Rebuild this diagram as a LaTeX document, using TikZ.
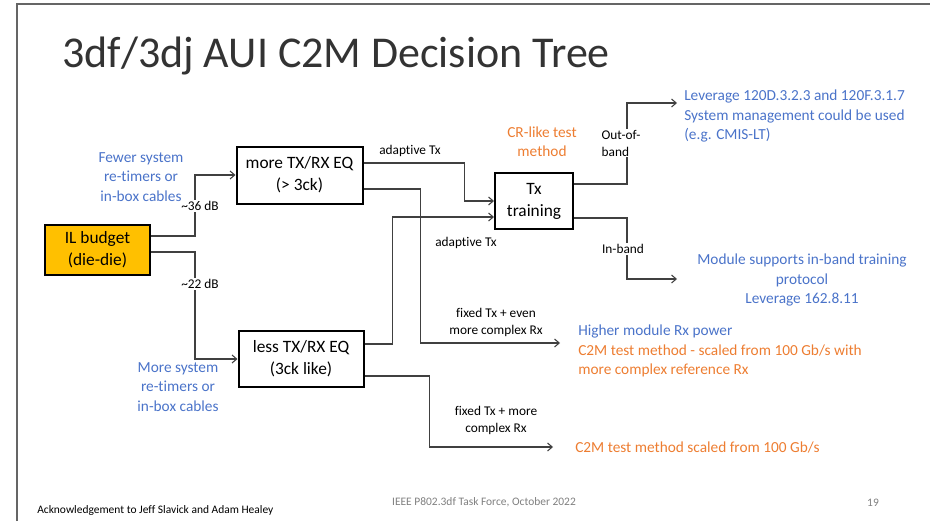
\documentclass[tikz,border=0pt]{standalone}
\usepackage{fontspec}
\setmainfont{Carlito}[Ligatures=NoCommon]
\usetikzlibrary{arrows.meta,calc}
\definecolor{ablue}{HTML}{4A73C9}
\definecolor{aorange}{HTML}{ED7D31}
\definecolor{agold}{HTML}{FFC000}
\definecolor{aline}{HTML}{404040}
\definecolor{agrey}{HTML}{7F7F7F}
\begin{document}
\begin{tikzpicture}[x=0.75pt,y=-0.75pt,
  box/.style={draw=black,line width=1.5pt,align=center,inner sep=0pt,font=\fontsize{13}{16.5}\selectfont},
  conn/.style={draw=aline,line width=0.8pt},
  arr/.style={conn,-{Straight Barb[length=3.5pt,width=6pt]}},
  small/.style={font=\fontsize{10}{12.75}\selectfont,align=center,inner sep=1pt},
  bluetxt/.style={text=ablue,font=\fontsize{11.5}{14.5}\selectfont,inner sep=0pt},
  orangetxt/.style={text=aorange,font=\fontsize{11.5}{14.5}\selectfont,inner sep=0pt},
  gap/.style={fill=white}]
\useasboundingbox (0,0) rectangle (930,521);
% frame
\draw[agrey!80!black,line width=1.5pt] (17,521) -- (17,4) -- (930,4);
% title
\node[anchor=base west,inner sep=0pt,font=\fontsize{33}{40}\selectfont,text=black!80] (title) at (62,67) {3df/3dj AUI C2M Decision Tree};
% boxes
\node[box,fill=agold,minimum width=78.75pt,minimum height=37.5pt] (il) at (97.5,250) {IL budget\\(die-die)};
\node[box,minimum width=94.5pt,minimum height=42.75pt] (more) at (299.5,175) {more TX/RX EQ\\(> 3ck)};
\node[box,minimum width=93.75pt,minimum height=42pt] (less) at (301,359) {less TX/RX EQ\\(3ck like)};
\node[box,minimum width=58.5pt,minimum height=42pt] (tx) at (534,201) {Tx\\training};
% end coordinates
\coordinate (e1) at (560,343);
\coordinate (e2) at (553,447);
\coordinate (e3) at (677,103);
\coordinate (e4) at (677,279);
% connectors
\draw[arr] ($(il.east)+(0,-14)$) -- ++(44,0) |- (more.west);
\draw[arr] ($(il.east)+(0,2)$) -- ++(44,0) |- (less.west);
\draw[arr] ($(more.east)+(0,-12)$) -- ++(101,0) |- (tx.west);
\draw[arr] ($(more.east)+(0,14)$) -- ++(57,0) |- (e1);
\draw[arr] ($(less.east)+(0,-15)$) -- ++(28,0) |- ($(tx.west)+(0,16)$);
\draw[arr] ($(less.east)+(0,17)$) -- ++(65,0) |- (e2);
\draw[arr] ($(tx.east)+(0,-17)$) -- ++(53,0) |- (e3);
\draw[arr] ($(tx.east)+(0,17)$) -- ++(53,0) |- (e4);
% labels on lines
\node[small,gap] (db36) at (200,206) {\textasciitilde36 dB};
\node[small,gap] (db22) at (200,284) {\textasciitilde22 dB};
\node[small,gap,align=left] (oob) at (621,143) {Out-of-\\band};
\node[small,gap] (inb) at (623,249) {In-band};
\node[small] (ad1) at (410,151) {adaptive Tx};
\node[small] (ad2) at (466,243) {adaptive Tx};
\node[small] (fx1) at (496,322) {fixed Tx + even\\more complex Rx};
\node[small] (fx2) at (496,420) {fixed Tx + more\\complex Rx};
% colored texts
\node[bluetxt,align=center] (fewer) at (141,177) {Fewer system\\re-timers or\\in-box cables};
\node[bluetxt,align=center] (moresys) at (178,387) {More system\\re-timers or\\in-box cables};
\node[orangetxt,align=center] (cr) at (542,142) {CR-like test\\method};
\node[bluetxt,align=left,anchor=west] (lev) at (684,116) {Leverage 120D.3.2.3 and 120F.3.1.7\\System management could be used\\(e.g. CMIS-LT)};
\node[bluetxt,align=center] (mod) at (802,280) {Module supports in-band training\\protocol\\Leverage 162.8.11};
\node[anchor=west,inner sep=0pt,align=left,font=\fontsize{11.5}{14.5}\selectfont] (hi) at (578,351) {\textcolor{ablue}{Higher module Rx power}\\\textcolor{aorange}{C2M test method - scaled from 100 Gb/s with}\\\textcolor{aorange}{more complex reference Rx}};
\node[orangetxt,anchor=west] (c2m) at (575,447) {C2M test method scaled from 100 Gb/s};
% footer
\node[anchor=west,inner sep=0pt,font=\fontsize{8.6}{10}\selectfont] (ack) at (37,510) {Acknowledgement to Jeff Slavick and Adam Healey};
\node[inner sep=0pt,font=\fontsize{8.6}{10}\selectfont,text=agrey] (ieee) at (484,502) {IEEE P802.3df Task Force, October 2022};
\node[inner sep=0pt,font=\fontsize{8.6}{10}\selectfont,text=agrey] (pg) at (873,503) {19};
\end{tikzpicture}
\end{document}
